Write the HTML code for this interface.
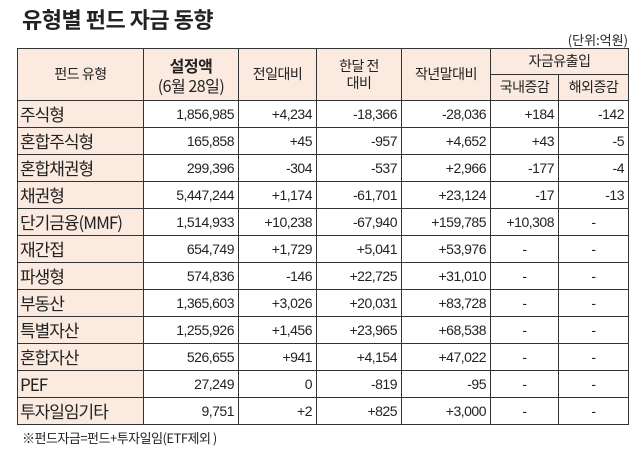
<!DOCTYPE html>
<html><head><meta charset="utf-8"><style>
body{margin:0;width:640px;height:471px;background:#fff;position:relative;overflow:hidden;font-family:"Liberation Sans","Noto Sans CJK KR",sans-serif;color:#222}
.t{position:absolute;left:22px;top:3px;font-size:22px;font-weight:bold;font-family:"Noto Sans CJK KR",sans-serif;letter-spacing:-0.5px}
.u{position:absolute;right:12px;top:30px;font-size:13px;font-family:"Noto Sans CJK KR",sans-serif}
table{position:absolute;left:17px;top:48px;border-collapse:collapse;table-layout:fixed;width:611px}
td{border:1px solid #333;padding:0 4px;height:26px;font-size:14px;text-align:right;white-space:nowrap;overflow:hidden;letter-spacing:-0.5px}
td.l{background:#fbeadf;text-align:left;font-size:17px;padding:0 2px;font-family:"Noto Sans CJK KR",sans-serif;letter-spacing:-1px;line-height:20px}
td.c{text-align:center}
.h td{background:#fbeadf;text-align:center;font-family:"Noto Sans CJK KR",sans-serif;font-size:14px;height:25px;line-height:17px}
.f{position:absolute;left:22px;top:428px;font-size:13px;font-family:"Noto Sans CJK KR",sans-serif;letter-spacing:-0.5px}
</style></head><body>
<div class="t">유형별 펀드 자금 동향</div>
<div class="u">(단위:억원)</div>
<table>
<colgroup><col style="width:126px"><col style="width:95px"><col style="width:78px"><col style="width:85px"><col style="width:89px"><col style="width:68px"><col style="width:70px"></colgroup>
<tr class="h"><td rowspan="2">펀드 유형</td><td rowspan="2" style="font-size:16px;line-height:20px"><b>설정액</b><br>(6월 28일)</td><td rowspan="2">전일대비</td><td rowspan="2">한달 전<br>대비</td><td rowspan="2">작년말대비</td><td colspan="2">자금유출입</td></tr>
<tr class="h"><td>국내증감</td><td>해외증감</td></tr>
<tr><td class="l">주식형</td><td>1,856,985</td><td>+4,234</td><td>-18,366</td><td>-28,036</td><td>+184</td><td>-142</td></tr>
<tr><td class="l">혼합주식형</td><td>165,858</td><td>+45</td><td>-957</td><td>+4,652</td><td>+43</td><td>-5</td></tr>
<tr><td class="l">혼합채권형</td><td>299,396</td><td>-304</td><td>-537</td><td>+2,966</td><td>-177</td><td>-4</td></tr>
<tr><td class="l">채권형</td><td>5,447,244</td><td>+1,174</td><td>-61,701</td><td>+23,124</td><td>-17</td><td>-13</td></tr>
<tr><td class="l">단기금융(MMF)</td><td>1,514,933</td><td>+10,238</td><td>-67,940</td><td>+159,785</td><td>+10,308</td><td class="c">-</td></tr>
<tr><td class="l">재간접</td><td>654,749</td><td>+1,729</td><td>+5,041</td><td>+53,976</td><td class="c">-</td><td class="c">-</td></tr>
<tr><td class="l">파생형</td><td>574,836</td><td>-146</td><td>+22,725</td><td>+31,010</td><td class="c">-</td><td class="c">-</td></tr>
<tr><td class="l">부동산</td><td>1,365,603</td><td>+3,026</td><td>+20,031</td><td>+83,728</td><td class="c">-</td><td class="c">-</td></tr>
<tr><td class="l">특별자산</td><td>1,255,926</td><td>+1,456</td><td>+23,965</td><td>+68,538</td><td class="c">-</td><td class="c">-</td></tr>
<tr><td class="l">혼합자산</td><td>526,655</td><td>+941</td><td>+4,154</td><td>+47,022</td><td class="c">-</td><td class="c">-</td></tr>
<tr><td class="l">PEF</td><td>27,249</td><td>0</td><td>-819</td><td>-95</td><td class="c">-</td><td class="c">-</td></tr>
<tr><td class="l">투자일임기타</td><td>9,751</td><td>+2</td><td>+825</td><td>+3,000</td><td class="c">-</td><td class="c">-</td></tr>
</table>
<div class="f">※펀드자금=펀드+투자일임(ETF제외 )</div>
</body></html>
